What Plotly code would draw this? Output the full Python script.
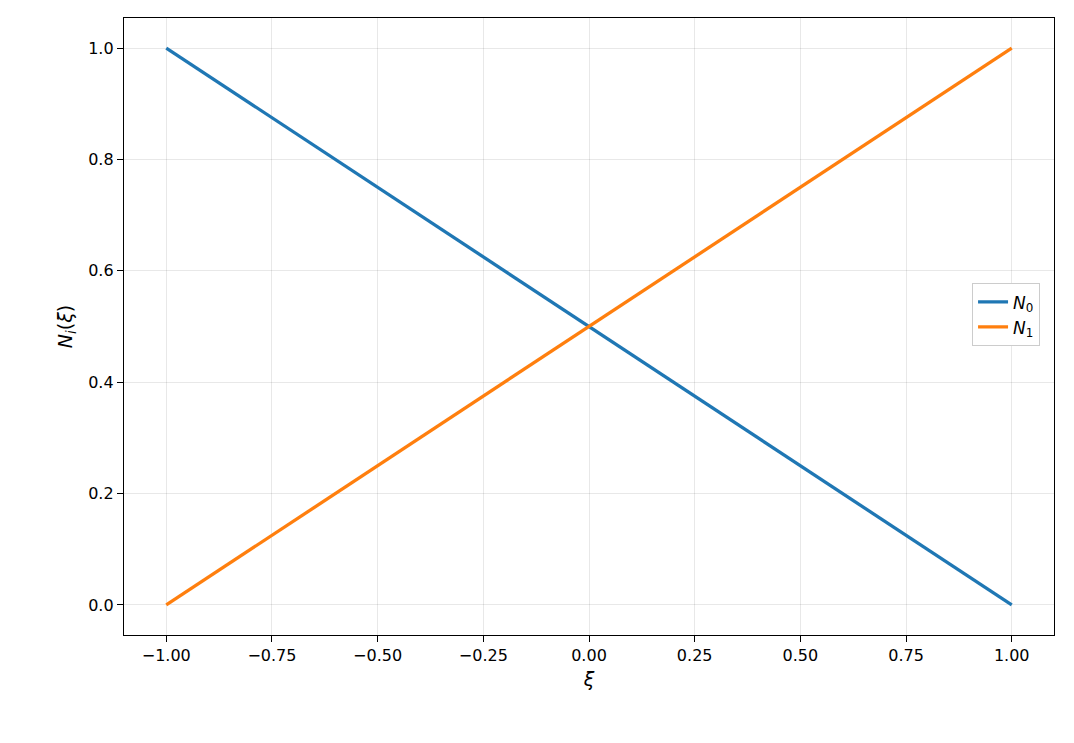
import plotly.graph_objects as go

xi = [-1.0, 1.0]
n0 = [1.0, 0.0]
n1 = [0.0, 1.0]

fig = go.Figure()
fig.add_trace(go.Scatter(x=xi, y=n0, mode="lines", name="<i>N</i><sub>0</sub>",
                         line=dict(color="#1f77b4", width=3.3)))
fig.add_trace(go.Scatter(x=xi, y=n1, mode="lines", name="<i>N</i><sub>1</sub>",
                         line=dict(color="#ff7f0e", width=3.3)))

axis = dict(showline=True, mirror=True, linecolor="black", linewidth=1.3,
            ticks="outside", ticklen=6, tickcolor="black",
            showgrid=True, gridcolor="rgba(0,0,0,0.09)", zeroline=False)

fig.update_layout(
    width=1074, height=743,
    paper_bgcolor="white", plot_bgcolor="white",
    margin=dict(l=116, r=28, t=10, b=116),
    font=dict(family="DejaVu Sans", size=16, color="black"),
    xaxis=dict(axis, range=[-1.1, 1.1], tickvals=[-1, -0.75, -0.5, -0.25, 0, 0.25, 0.5, 0.75, 1],
               tickformat=".2f", title=dict(text="<i>ξ</i>", standoff=8)),
    yaxis=dict(axis, range=[-0.054, 1.054], tickvals=[0, 0.2, 0.4, 0.6, 0.8, 1.0],
               tickformat=".1f", title=dict(text="<i>N<sub>i</sub></i>(<i>ξ</i>)", standoff=10)),
    legend=dict(x=0.985, y=0.57, xanchor="right", yanchor="top",
                bordercolor="#cccccc", borderwidth=1, bgcolor="white",
                font=dict(size=17)),
)

fig.write_html("out.html")
